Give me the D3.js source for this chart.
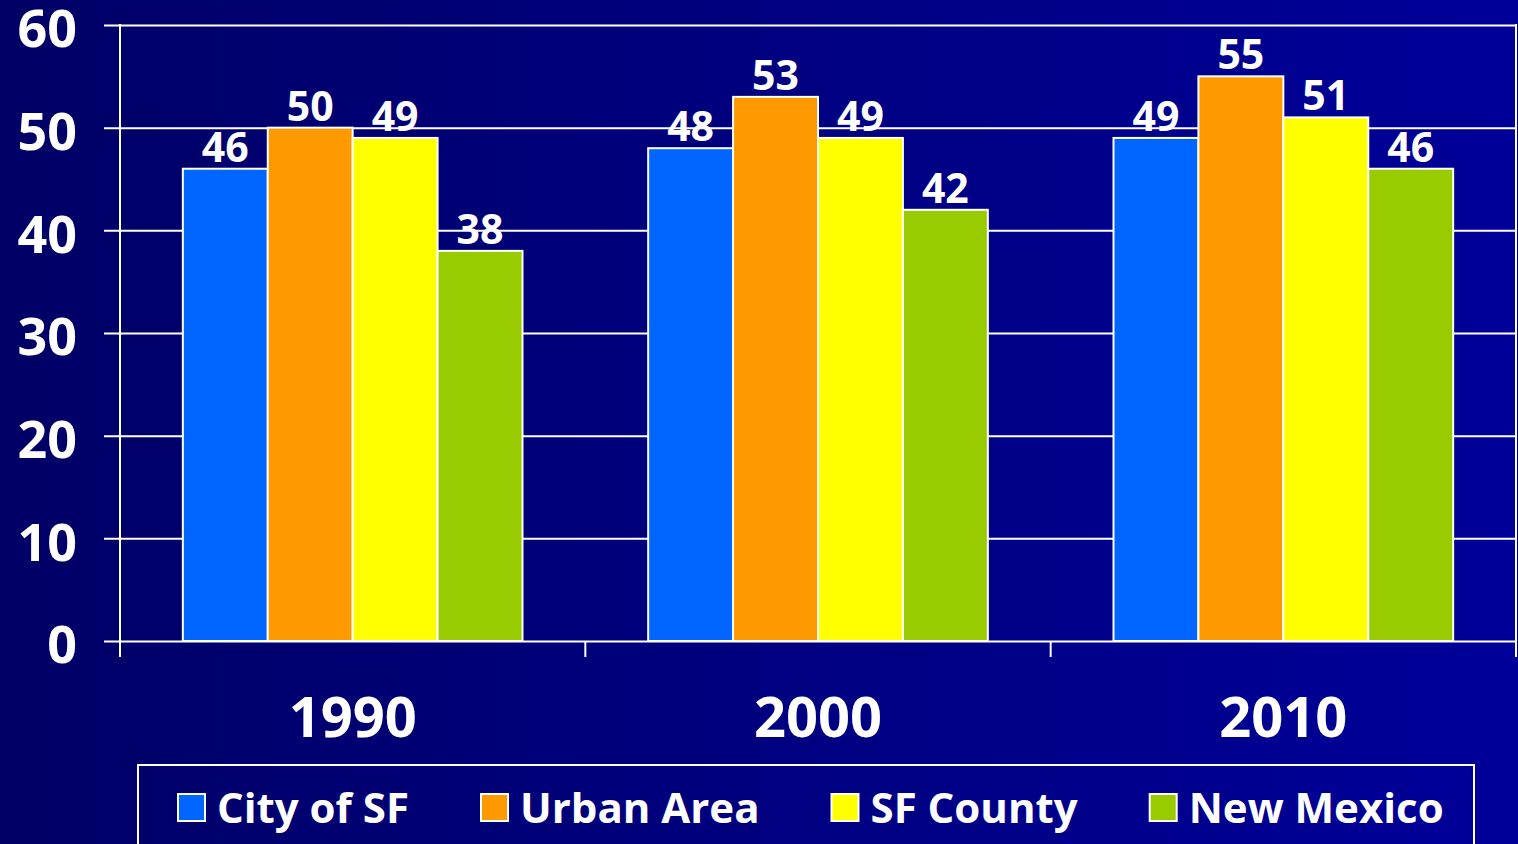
<!DOCTYPE html>
<html>
<head>
<meta charset="utf-8">
<script src="https://cdn.jsdelivr.net/npm/d3@7"></script>
<style>
  html, body { margin: 0; padding: 0; overflow: hidden; }
  svg { display: block; font-family: "Open Sans", "DejaVu Sans", sans-serif; font-weight: 700; }
</style>
</head>
<body>
<svg width="1518" height="844"></svg>
<script>
// chart data
const years = ["1990", "2000", "2010"]
const seriesNames = ["City of SF", "Urban Area", "SF County", "New Mexico"]
const seriesColors = ["#0066ff", "#ff9900", "#ffff00", "#99cc00"]
const cityOfSF = [46, 48, 49]
const urbanArea = [50, 53, 55]
const sfCounty = [49, 49, 51]
const newMexico = [38, 42, 46]
const yTicks = [0, 10, 20, 30, 40, 50, 60]

const seriesValues = [cityOfSF, urbanArea, sfCounty, newMexico]

const svg = d3.select("svg")

// background gradient, darker on the left
const defs = svg.append("defs")
const grad = defs.append("linearGradient")
    .attr("id", "bg")
    .attr("x1", "0").attr("y1", "0")
    .attr("x2", "1").attr("y2", "0")
grad.append("stop").attr("offset", "0").attr("stop-color", "#000066")
grad.append("stop").attr("offset", "1").attr("stop-color", "#000099")

svg.append("rect")
    .attr("width", 1518)
    .attr("height", 844)
    .attr("fill", "url(#bg)")

const plotLeft = 120
const plotRight = 1516
const plotTop = 25
const plotBottom = 641

const scaleX = d3.scaleBand()
    .domain(years)
    .range([plotLeft, plotRight])

const scaleSeries = d3.scaleBand()
    .domain(seriesNames)
    .range([0, scaleX.bandwidth()])
    .paddingOuter(0.74)

const scaleY = d3.scaleLinear()
    .domain([0, 60])
    .range([plotBottom, plotTop])

// y axis with gridlines
const axisY = d3.axisLeft(scaleY)
    .tickValues(yTicks)
    .tickSizeInner(-(plotRight - 104))
    .tickSizeOuter(0)
    .tickPadding(27)

const axisYGroup = svg.append("g")
    .attr("transform", "translate(104, 0)")
    .call(axisY)

axisYGroup.select(".domain").remove()
axisYGroup.selectAll("line")
    .attr("stroke", "white")
    .attr("stroke-width", 2)
axisYGroup.selectAll("text")
    .attr("fill", "white")
    .attr("font-size", 52)
    .attr("font-family", "Open Sans, DejaVu Sans, sans-serif")
    .attr("font-weight", 700)
    .attr("dy", "0.42em")

// left axis line
svg.append("line")
    .attr("x1", plotLeft).attr("x2", plotLeft)
    .attr("y1", plotTop - 1).attr("y2", 657)
    .attr("stroke", "white").attr("stroke-width", 2)

// category ticks at band edges, last one runs up as the right edge
const edges = years.map(y => scaleX(y)).concat([plotRight])
svg.selectAll("line.cat-tick")
    .data(edges.slice(1))
    .enter()
    .append("line")
    .attr("class", "cat-tick")
    .attr("x1", d => d).attr("x2", d => d)
    .attr("y1", d => d === plotRight ? plotTop - 1 : plotBottom)
    .attr("y2", 657)
    .attr("stroke", "white").attr("stroke-width", 2)

// bars
const groups = svg.selectAll("g.year")
    .data(years)
    .enter()
    .append("g")
    .attr("class", "year")
    .attr("transform", d => `translate(${scaleX(d)}, 0)`)

groups.each(function (year, yi) {
    const g = d3.select(this)
    const rows = seriesNames.map((name, si) => ({ name: name, value: seriesValues[si][yi], color: seriesColors[si] }))

    g.selectAll("rect")
        .data(rows)
        .enter()
        .append("rect")
        .attr("x", d => scaleSeries(d.name))
        .attr("y", d => scaleY(d.value))
        .attr("width", scaleSeries.bandwidth())
        .attr("height", d => scaleY(0) - scaleY(d.value))
        .attr("fill", d => d.color)
        .attr("stroke", "white")
        .attr("stroke-width", 2)

    g.selectAll("text")
        .data(rows)
        .enter()
        .append("text")
        .attr("x", d => scaleSeries(d.name) + scaleSeries.bandwidth() / 2)
        .attr("y", d => scaleY(d.value) - 7)
        .attr("text-anchor", "middle")
        .attr("fill", "white")
        .attr("font-size", 41)
        .text(d => d.value)
})

// x labels
svg.selectAll("text.year-label")
    .data(years)
    .enter()
    .append("text")
    .attr("class", "year-label")
    .attr("x", d => scaleX(d) + scaleX.bandwidth() / 2)
    .attr("y", 737)
    .attr("text-anchor", "middle")
    .attr("fill", "white")
    .attr("font-size", 56)
    .text(d => d)

// legend
svg.append("rect")
    .attr("x", 138).attr("y", 765)
    .attr("width", 1336).attr("height", 100)
    .attr("fill", "none")
    .attr("stroke", "white").attr("stroke-width", 2)

const legend = svg.append("g")
let cursor = 178
seriesNames.forEach((name, i) => {
    legend.append("rect")
        .attr("x", cursor).attr("y", 794)
        .attr("width", 27).attr("height", 27)
        .attr("fill", seriesColors[i])
        .attr("stroke", "white").attr("stroke-width", 2)
    const t = legend.append("text")
        .attr("x", cursor + 39)
        .attr("y", 823)
        .attr("fill", "white")
        .attr("font-size", 42)
        .text(name)
    cursor += 39 + t.node().getComputedTextLength() + 72
})
</script>
</body>
</html>
